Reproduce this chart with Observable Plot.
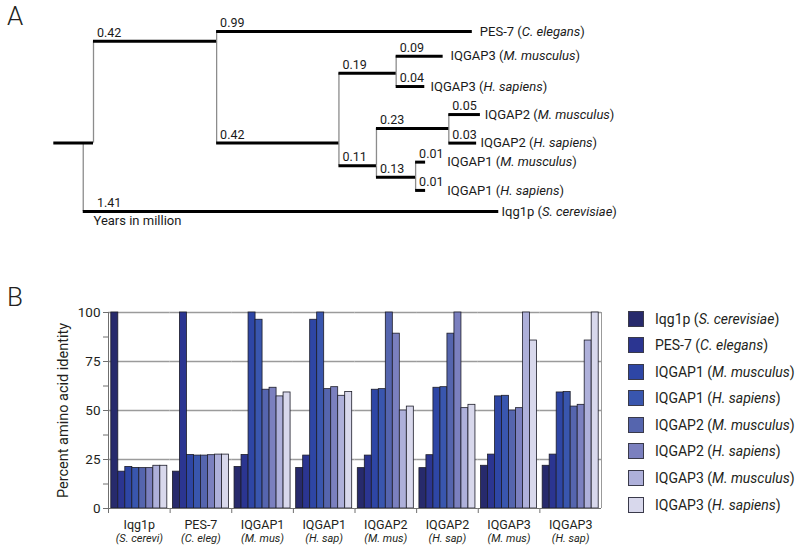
<!DOCTYPE html>
<html><head><meta charset="utf-8">
<script src="https://cdn.jsdelivr.net/npm/d3@7"></script>
<script src="https://cdn.jsdelivr.net/npm/@observablehq/plot@0.6"></script>
<style>
body{margin:0;background:#fff;}
#fig{position:relative;width:800px;height:552px;overflow:hidden;background:#fff;font-family:Roboto,sans-serif;color:#231f20;}
.plab{position:absolute;font-size:26px;line-height:1;font-family:Roboto,sans-serif;font-weight:300;}
#treeWrap{position:absolute;left:0;top:0;}
#barWrap{position:absolute;left:0;top:290px;}
#legend{position:absolute;left:628px;top:305.4px;font-size:14px;}
.lrow{display:flex;align-items:center;height:26.57px;white-space:nowrap;}
.sw{width:16px;height:16px;box-sizing:border-box;border:1px solid #3a3a4a;margin-right:11px;flex:none;}
</style></head>
<body>
<div id="fig">
  <div id="treeWrap"></div>
  <div id="barWrap"></div>
  <div id="legend"></div>
  <div class="plab" style="left:7px;top:3px;">A</div>
  <div class="plab" style="left:7px;top:284px;">B</div>
</div>
<script>
// ---------- Panel A: tree data (drawn depth and row) ----------
const nodeIds      = ["origin","root","A","PES-7","B","C","IQGAP3 M","IQGAP3 H","D","E","IQGAP2 M","IQGAP2 H","F","IQGAP1 M","IQGAP1 H","Iqg1p"];
const nodeParents  = [null,"origin","root","A","A","B","C","C","B","D","E","E","D","F","F","root"];
const nodeDepths   = [-0.147, 0, 0.456, 1.403, 0.909, 1.121, 1.295, 1.227, 1.048, 1.316, 1.433, 1.419, 1.193, 1.230, 1.230, 1.501];
const nodeRows     = [4.34, 4.34, 0.38, 0, 4.34, 1.62, 0.96, 2.14, 5.22, 3.77, 3.23, 4.34, 5.67, 5.08, 6.18, 7];
const branchLabels = ["", "", "0.42", "0.99", "0.42", "0.19", "0.09", "0.04", "0.11", "0.23", "0.05", "0.03", "0.13", "0.01", "0.01", "1.41"];
const leafLabels   = ["", "", "", "PES-7 (C. elegans)", "", "", "IQGAP3 (M. musculus)", "IQGAP3 (H. sapiens)", "", "", "IQGAP2 (M. musculus)", "IQGAP2 (H. sapiens)", "", "IQGAP1 (M. musculus)", "IQGAP1 (H. sapiens)", "Iqg1p (S. cerevisiae)"];
const leafLabelDepths = [null, null, null, 1.431, null, null, 1.322, 1.248, null, null, 1.449, 1.433, null, 1.310, 1.310, 1.511];
const joinDepths   = [null, null, null, null, null, null, null, null, null, null, null, null, null, null, null, -0.038];
const scaleNote = "Years in million";

// ---------- Panel B: bar data ----------
const groupNames   = ["Iqg1p","PES-7","IQGAP1","IQGAP1","IQGAP2","IQGAP2","IQGAP3","IQGAP3"];
const groupSpecies = ["S. cerevi","C. eleg","M. mus","H. sap","M. mus","H. sap","M. mus","H. sap"];
const seriesNames   = ["Iqg1p","PES-7","IQGAP1","IQGAP1","IQGAP2","IQGAP2","IQGAP3","IQGAP3"];
const seriesSpecies = ["S. cerevisiae","C. elegans","M. musculus","H. sapiens","M. musculus","H. sapiens","M. musculus","H. sapiens"];
const seriesColors  = ["#272a6c","#2b3591","#2e46a5","#3956ae","#5565ae","#7b80bf","#aeb0da","#d8d8ec"];
const vsIqg1pSc  = [100, 18.8, 21.2, 20.7, 20.6, 20.6, 21.8, 21.8];
const vsPes7Ce   = [18.8, 100, 27.3, 27.0, 27.0, 27.2, 27.5, 27.5];
const vsIqgap1Mm = [21.2, 27.3, 100, 96.3, 60.6, 61.6, 57.2, 59.2];
const vsIqgap1Hs = [20.7, 27.0, 96.3, 100, 60.9, 61.9, 57.5, 59.4];
const vsIqgap2Mm = [20.6, 27.0, 60.6, 60.9, 100, 89.2, 50.0, 52.0];
const vsIqgap2Hs = [20.6, 27.2, 61.6, 61.9, 89.2, 100, 51.2, 52.9];
const vsIqgap3Mm = [21.8, 27.5, 57.2, 57.5, 50.0, 51.2, 100, 85.7];
const vsIqgap3Hs = [21.8, 27.5, 59.2, 59.4, 52.0, 52.9, 85.7, 100];
const yTicks = [0, 25, 50, 75, 100];
const yMinorTicks = [12.5, 37.5, 62.5, 87.5];
const yLabel = "Percent amino acid identity";

// ---------- build tree ----------
const nodes = nodeIds.map((id, i) => ({id, parent: nodeParents[i], depth: nodeDepths[i], row: nodeRows[i],
  branch: branchLabels[i], leaf: leafLabels[i], leafDepth: leafLabelDepths[i], join: joinDepths[i]}));
const byId = new Map(nodes.map(n => [n.id, n]));
const edges = nodes.filter(n => n.parent).map(n => {
  const p = byId.get(n.parent);
  return {...n, start: n.join ?? p.depth, prow: p.row, pdepth: p.depth};
});
const rootNode = byId.get("root"), outNode = byId.get("Iqg1p");

const tree = Plot.plot({
  width: 800, height: 240, margin: 0,
  style: {fontFamily: "Roboto, sans-serif", fontSize: "12.5px", color: "#1a1a1a", background: "transparent"},
  x: {domain: [0, 1], range: [93, 363], axis: null},
  y: {domain: [0, 7], range: [31, 211], axis: null},
  marks: [
    Plot.ruleX(edges, {x: "start", y1: "prow", y2: "row", stroke: "#8c8c8c", strokeWidth: 1.3}),
    Plot.ruleY(edges, {y: "row", x1: "start", x2: "depth", stroke: "#000", strokeWidth: 3}),
    Plot.text(edges.filter(e => e.branch), {x: "pdepth", y: "row", text: "branch", dx: 3.5, dy: -4.5,
      lineAnchor: "bottom", textAnchor: "start", fill: "#1a1a1a"}),
    Plot.text(edges.filter(e => e.leaf), {x: "leafDepth", y: "row", text: "leaf", textAnchor: "start",
      fill: "#1a1a1a", fontSize: 13}),
    Plot.text([scaleNote], {x: () => rootNode.depth, y: () => outNode.row, text: d => d, dy: 13.5,
      lineAnchor: "bottom", textAnchor: "start", fill: "#1a1a1a", fontSize: 13})
  ]
});
// italicise species names inside parentheses
function italicise(textEl) {
  const t = textEl.textContent;
  const m = t.match(/^(.*\()(.*)(\))$/);
  if (!m) return;
  while (textEl.firstChild) textEl.removeChild(textEl.firstChild);
  const ns = "http://www.w3.org/2000/svg";
  [[m[1], false], [m[2], true], [m[3], false]].forEach(([s, it]) => {
    const ts = document.createElementNS(ns, "tspan");
    ts.textContent = s;
    if (it) ts.setAttribute("font-style", "italic");
    textEl.appendChild(ts);
  });
}
tree.querySelectorAll("text").forEach(italicise);
document.getElementById("treeWrap").appendChild(tree);

// ---------- build bars ----------
const seriesValues = [vsIqg1pSc, vsPes7Ce, vsIqgap1Mm, vsIqgap1Hs, vsIqgap2Mm, vsIqgap2Hs, vsIqgap3Mm, vsIqgap3Hs];
const bars = seriesValues.flatMap((vals, s) => vals.map((v, g) => ({group: g, series: s, value: v})));
const G = d3.range(groupNames.length), S = d3.range(seriesNames.length);
const W = 615, ML = 108, MR = 14, PO = 0.4;
const facetW = (W - ML - MR) / G.length;
const step = facetW / (S.length + 2 * PO);
const edgeDx = -(PO + 0.5) * step;

const chart = Plot.plot({
  width: W, height: 262, marginLeft: ML, marginRight: MR, marginTop: 22, marginBottom: 44,
  style: {fontFamily: "Roboto, sans-serif", fontSize: "13.5px", color: "#231f20", background: "transparent"},
  fx: {domain: G, padding: 0, round: false, axis: null},
  x: {domain: S, paddingInner: 0, paddingOuter: PO, round: false, axis: null},
  y: {domain: [0, 100]},
  color: {domain: S, range: seriesColors},
  marks: [
    Plot.ruleY([25, 50, 75, 100], {stroke: "#9b9b9b", strokeWidth: 1.5}),
    Plot.barY(bars, {fx: "group", x: "series", y: "value", fill: "series", stroke: "#1c1c28", strokeWidth: 0.8}),
    Plot.ruleY([0], {stroke: "#6f6f6f"}),
    Plot.ruleX(G, {fx: d => d, x: () => 0, dx: edgeDx, y1: 0, y2: 0, insetBottom: -5, stroke: "#6f6f6f"}),
    Plot.ruleX([0], {fx: d => d, x: () => 0, dx: edgeDx, y1: 100, y2: 0, insetBottom: -5, stroke: "#6f6f6f"}),
    Plot.ruleX([G.length - 1], {fx: d => d, x: () => S.length - 1, dx: -edgeDx, y1: 100, y2: 0, stroke: "#9b9b9b"}),
    Plot.axisY({ticks: yTicks, tickSize: 5, tickPadding: 3, label: null, stroke: "#6f6f6f", fill: "#231f20", fontSize: 13.5}),
    Plot.axisY({ticks: yMinorTicks, tickSize: 5, tickFormat: () => "", label: null, stroke: "#6f6f6f"}),
    Plot.text([0], {fx: d => d, frameAnchor: "left", rotate: -90, dx: -45, textAnchor: "middle", text: () => yLabel, fontSize: 14.5}),
    Plot.text(G, {fx: d => d, frameAnchor: "bottom", dy: 20, text: d => groupNames[d], fontSize: 12.5}),
    Plot.text(G, {fx: d => d, frameAnchor: "bottom", dy: 33.5, text: d => `(${groupSpecies[d]})`, fontSize: 11, fontStyle: "italic"})
  ]
});
document.getElementById("barWrap").appendChild(chart);

// ---------- legend ----------
const legend = d3.select("#legend");
S.forEach(s => {
  const row = legend.append("div").attr("class", "lrow");
  row.append("div").attr("class", "sw").style("background", seriesColors[s]);
  const lab = row.append("span");
  lab.append("span").text(seriesNames[s] + " (");
  lab.append("i").text(seriesSpecies[s]);
  lab.append("span").text(")");
});
</script>
</body></html>
